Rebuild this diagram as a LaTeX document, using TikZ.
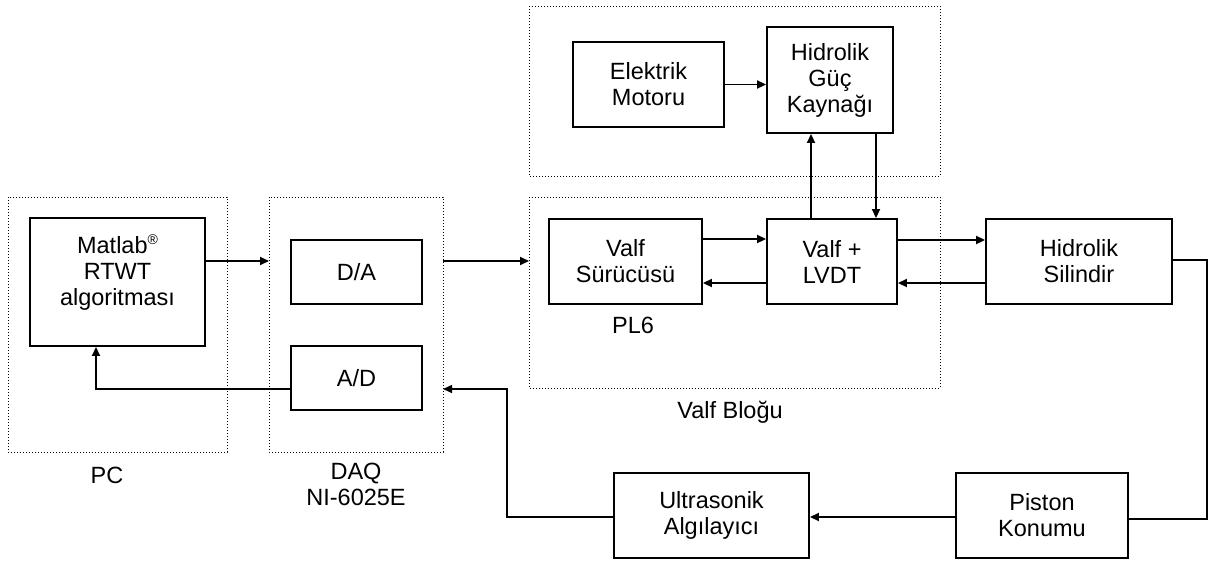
\documentclass[tikz,border=0pt]{standalone}
\usepackage{fontspec}
\setmainfont{Liberation Sans}
\usetikzlibrary{arrows.meta}
\begin{document}
\begin{tikzpicture}[x=1pt,y=-1pt,
  blk/.style={draw,line width=1.9pt,align=center,inner sep=0pt},
  grp/.style={draw,line width=1pt,dotted},
  con/.style={line width=1.9pt,-{Triangle[length=9pt,width=8pt]}},
  lnk/.style={line width=1.5pt},
  lbl/.style={align=center,inner sep=0pt},
  every node/.style={font=\fontsize{23.5}{26}\selectfont}]
\useasboundingbox (0,0) rectangle (1208,563);
% group boxes
\draw[grp] (8,197) rectangle (227,452);
\draw[grp] (269,197) rectangle (443,452);
\draw[grp] (529,6) rectangle (940,176);
\draw[grp] (529,197) rectangle (940,388);
\coordinate (daqin) at (269,261);
\coordinate (daqout) at (443,389);
\coordinate (adrow) at (0,389);
\coordinate (pcout) at (227,261);
\coordinate (daqR) at (443,261);
\coordinate (vbL) at (529,261);
\coordinate (fbk) at (96,389);
\coordinate (usl) at (507,517);
\coordinate (usu) at (507,389);
\coordinate (hsr) at (1207,260);
\coordinate (pkr) at (1207,519);
% blocks
\node[blk,minimum width=175pt,minimum height=128pt] (mat) at (117.5,282) {};
\node[lbl] (matt) at (117.5,273) {Matlab\raisebox{9pt}{\fontsize{14}{14}\selectfont\textregistered}\\RTWT\\algoritması};
\node[blk,minimum width=131pt,minimum height=64pt] (da) at (356.5,272) {D/A};
\node[blk,minimum width=131pt,minimum height=64pt] (ad) at (356.5,378) {A/D};
\node[blk,minimum width=151pt,minimum height=85pt] (em) at (648.5,84.5) {Elektrik\\Motoru};
\node[blk,minimum width=126pt,minimum height=106pt] (hgk) at (830,80) {Hidrolik\\Güç\\Kaynağı};
\node[blk,minimum width=153pt,minimum height=85pt] (vs) at (625.5,261.5) {Valf\\Sürücüsü};
\node[blk,minimum width=130pt,minimum height=85pt] (vl) at (832,261.5) {Valf +\\LVDT};
\node[blk,minimum width=186pt,minimum height=85pt] (hs) at (1079,261.5) {Hidrolik\\Silindir};
\node[blk,minimum width=172pt,minimum height=85pt] (pk) at (1042,515.5) {Piston\\Konumu};
\node[blk,minimum width=195pt,minimum height=85pt] (us) at (711.5,515.5) {Ultrasonik\\Algılayıcı};
% labels
\node[lbl] (pc) at (107,475) {PC};
\node[lbl,anchor=north] (daq) at (356,463) {DAQ\\NI-6025E};
\node[lbl] (pl6) at (633,325) {PL6};
\node[lbl] (vb) at (730,412) {Valf Bloğu};
% connectors
\draw[con] (mat.east |- pcout) -- (daqin);
\draw[con] (daqR) -- (vbL);
\draw[con] (ad.west |- adrow) -- (fbk) -- (mat.south -| fbk);
\draw[con] (em.east) -- (hgk.west |- em.east);
\draw[con] (vl.north -| 811,0) -- (hgk.south -| 811,0);
\draw[con] (hgk.south -| 876,0) -- (vl.north -| 876,0);
\draw[con] (vs.east |- 0,239) -- (vl.west |- 0,239);
\draw[con] (vl.west |- 0,283) -- (vs.east |- 0,283);
\draw[con] (vl.east |- 0,240) -- (hs.west |- 0,240);
\draw[con] (hs.west |- 0,283) -- (vl.east |- 0,283);
\draw[lnk] (hs.east |- hsr) -- (hsr) -- (pkr) -- (pk.east |- pkr);
\draw[con] (pk.west |- usl) -- (us.east |- usl);
\draw[con,line width=1.5pt] (us.west |- usl) -- (usl) -- (usu) -- (daqout);
\end{tikzpicture}
\end{document}
